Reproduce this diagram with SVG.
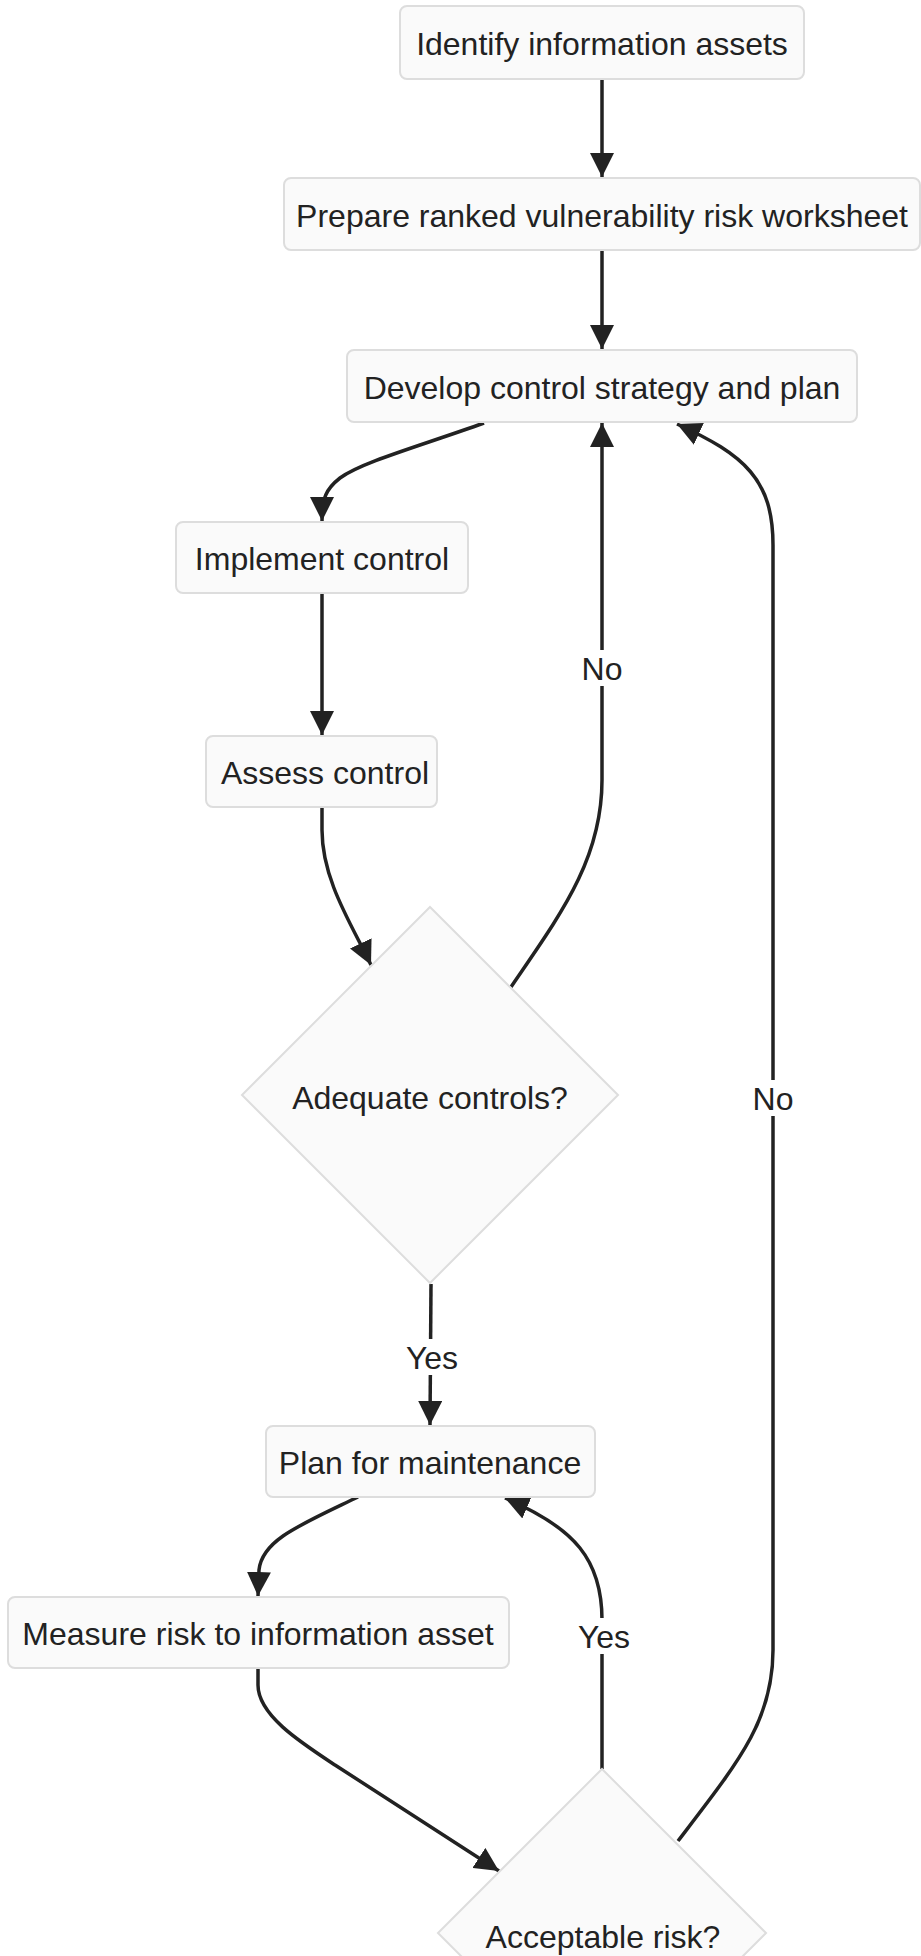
<svg xmlns="http://www.w3.org/2000/svg" width="921" height="1956" viewBox="0 0 921 1956">
<defs>
<style>
.node rect, .node polygon { fill: #fafafa; stroke: #dddddd; stroke-width: 2; }
.node text, .lbl text { font-family: "Liberation Sans", Arial, sans-serif; font-size: 32px; fill: #222222; text-anchor: middle; dominant-baseline: central; }
.edge { fill: none; stroke: #222222; stroke-width: 3.5; marker-end: url(#arrow); }
.lbl rect { fill: #ffffff; }
</style>
<marker id="arrow" markerUnits="userSpaceOnUse" viewBox="0 0 24 24" refX="24" refY="12" markerWidth="24" markerHeight="24" orient="auto">
<path d="M0,0 L24,12 L0,24 z" fill="#222222"/>
</marker>
</defs>
<rect width="921" height="1956" fill="#ffffff"/>

<g id="connectors">
<path class="edge" d="M602,79 L602,177"/>
<path class="edge" d="M602,250 L602,349"/>
<path class="edge" d="M484,423 C420,446 362,462 340,478 C326,489 322,498 322,521"/>
<path class="edge" d="M322,593 L322,735"/>
<path class="edge" d="M322,807 L322,830 C322,880 352,925 371,965"/>
<path class="edge" d="M511,987 C560,915 602,860 602,780 L602,423"/>
<path class="edge" d="M431,1284 L430,1425"/>
<path class="edge" d="M358,1497 C300,1525 262,1540 259,1570 L258,1596"/>
<path class="edge" d="M258,1668 L258,1685 C258,1715 300,1742 335,1765 L499,1871"/>
<path class="edge" d="M602,1769 L602,1620 C602,1560 575,1528 505,1498"/>
<path class="edge" d="M678,1841 C740,1760 773,1720 773,1650 L773,545 C773,480 745,455 677,424"/>
<g class="lbl">
<rect x="580" y="650" width="44" height="36"/><text x="602" y="669">No</text>
<rect x="751" y="1080" width="44" height="36"/><text x="773" y="1099">No</text>
<rect x="404" y="1339" width="56" height="36"/><text x="432" y="1358">Yes</text>
<rect x="576" y="1618" width="56" height="36"/><text x="604" y="1637">Yes</text>
</g>
</g>

<g id="identify" class="node"><rect x="400" y="6" width="404" height="73" rx="7"/><text x="602" y="44">Identify information assets</text></g>
<g id="prepare" class="node"><rect x="284" y="178" width="636" height="72" rx="7"/><text x="602" y="216">Prepare ranked vulnerability risk worksheet</text></g>
<g id="develop" class="node"><rect x="347" y="350" width="510" height="72" rx="7"/><text x="602" y="388">Develop control strategy and plan</text></g>
<g id="implement" class="node"><rect x="176" y="522" width="292" height="71" rx="7"/><text x="322" y="559">Implement control</text></g>
<g id="assess" class="node"><rect x="206" y="736" width="231" height="71" rx="7"/><text x="325" y="773">Assess control</text></g>
<g id="adequate" class="node"><polygon points="430,907 618,1095 430,1283 242,1095"/><text x="430" y="1098">Adequate controls?</text></g>
<g id="plan" class="node"><rect x="266" y="1426" width="329" height="71" rx="7"/><text x="430" y="1463">Plan for maintenance</text></g>
<g id="measure" class="node"><rect x="8" y="1597" width="501" height="71" rx="7"/><text x="258" y="1634">Measure risk to information asset</text></g>
<g id="acceptable" class="node"><polygon points="602,1769 766,1933 602,2097 438,1933"/><text x="603" y="1937">Acceptable risk?</text></g>
</svg>
